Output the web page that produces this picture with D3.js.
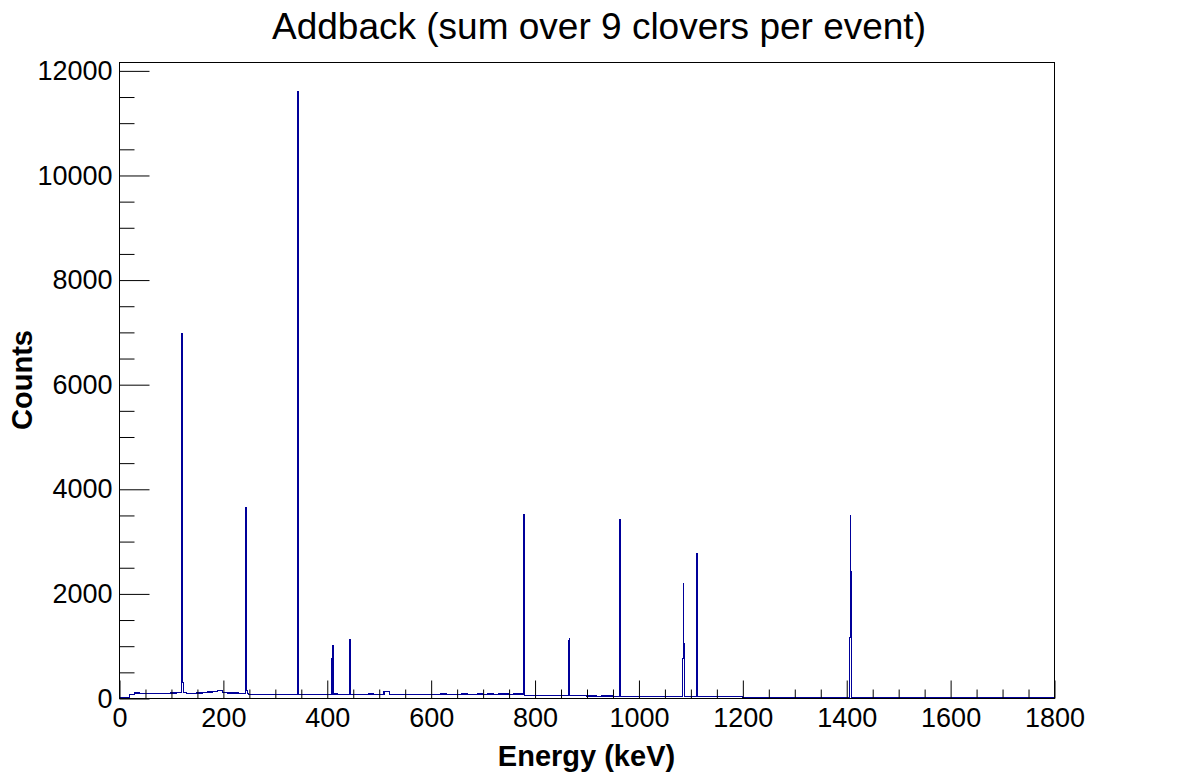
<!DOCTYPE html>
<html>
<head>
<meta charset="utf-8">
<script src="https://cdn.jsdelivr.net/npm/d3@7"></script>
<style>
  html, body { margin: 0; padding: 0; background: #fff; }
  svg { display: block; }
  text { font-family: "Liberation Sans", Arial, Helvetica, sans-serif; }
</style>
</head>
<body>
<div id="chart"></div>
<script>
// ---------------- data ----------------
const title = "Addback (sum over 9 clovers per event)";
const xTitle = "Energy (keV)";
const yTitle = "Counts";
const xTickValues = [0, 200, 400, 600, 800, 1000, 1200, 1400, 1600, 1800];
const yTickValues = [0, 2000, 4000, 6000, 8000, 10000, 12000];
const xRange = [0, 1800];
const yRange = [0, 12160];
const binWidth = 1;            // keV per histogram bin
const bgStart = 20;            // keV where the continuum begins
const bgStep = 10;             // keV width of each continuum reading
// continuum counts read every 10 keV from 20 keV up to 1330 keV
const background = [
  70, 95, 80, 85, 90, 80, 85, 90, 95, 105,          // 20-120
  110, 80, 85, 95, 110, 115, 130, 150,              // 120-200
  100, 95, 95, 90, 85,                              // 200-250
  70, 68, 70, 65, 68, 66, 64, 66, 65, 62,           // 250-350
  68, 66, 70, 68, 67,                               // 350-400
  72, 75, 74, 72, 70,                               // 400-450
  72, 70, 72, 75, 70, 72, 120, 70, 72, 70,          // 450-550
  68, 74, 72, 70, 72,                               // 550-600
  74, 72, 76, 73, 72, 74, 75, 72, 74, 76,           // 600-700
  73, 75, 74, 76, 75, 74, 76, 78,                   // 700-780
  55, 52, 50, 54, 50, 48, 52, 50, 47, 49, 45, 42,   // 780-900
  40, 38, 36, 38, 37, 36,                           // 900-960
  28, 26, 25, 24, 26, 25, 24, 25, 23, 25, 24, 22, 24, // 960-1090
  25, 24,                                           // 1090-1110
  36, 35, 34, 36, 35, 34, 35, 33, 34,               // 1110-1200
  14, 12, 13, 12, 11, 12, 11, 10, 12, 10,           // 1200-1300
  8, 6, 3                                           // 1300-1330
];
// photopeak bins: [bin energy (keV), counts]
const peakBins = [
  [121, 6960], [122, 6940], [123, 300],
  [244, 3640], [245, 2050], [246, 150],
  [343, 1950], [344, 11590], [345, 2350],
  [410, 760], [411, 1000],
  [443, 580], [444, 1115],
  [778, 3480], [779, 3500], [780, 110],
  [866, 1100], [867, 1130],
  [963, 3010], [964, 3410], [965, 910],
  [1085, 750], [1086, 2190], [1087, 1040],
  [1111, 2700], [1112, 2760], [1113, 240],
  [1407, 1150], [1408, 3490], [1409, 2420]
];

// ---------------- layout ----------------
const W = 1198, H = 776;
const frame = { left: 119, right: 1054, top: 62, bottom: 698 };

const svg = d3.select("#chart").append("svg")
  .attr("width", W).attr("height", H);

const x = d3.scaleLinear().domain(xRange).range([frame.left, frame.right]);
const y = d3.scaleLinear().domain(yRange).range([frame.bottom, frame.top]);

// build histogram bins from the readings
const peakMap = new Map(peakBins);
const bgEnd = bgStart + background.length * bgStep;
const bins = [];
for (let e = xRange[0]; e < xRange[1]; e += binWidth) {
  let v = 0;
  if (peakMap.has(e)) v = peakMap.get(e);
  else if (e >= bgStart && e < bgEnd) v = background[Math.floor((e - bgStart) / bgStep)];
  bins.push({ x0: e, x1: e + binWidth, v });
}
const pts = [];
bins.forEach(b => { pts.push([b.x0, b.v]); pts.push([b.x1, b.v]); });

const line = d3.line().x(d => x(d[0])).y(d => y(d[1]));

svg.append("path")
  .datum(pts)
  .attr("d", line)
  .attr("fill", "none")
  .attr("stroke", "#000099")
  .attr("stroke-width", 1.2)
  .attr("shape-rendering", "crispEdges");

// frame
svg.append("rect")
  .attr("x", frame.left + 0.5).attr("y", frame.top + 0.5)
  .attr("width", frame.right - frame.left).attr("height", frame.bottom - frame.top)
  .attr("fill", "none").attr("stroke", "#000").attr("stroke-width", 1);

// x axis ticks (inward, upward)
const xMinor = d3.range(xRange[0], xRange[1] + 1, 50).filter(v => v % 200 !== 0);
const xAxisMajor = d3.axisBottom(x).tickValues(xTickValues).tickSizeInner(-18).tickSizeOuter(0).tickPadding(24).tickFormat(d3.format("d"));
const xg = svg.append("g").attr("transform", `translate(0.5,${frame.bottom + 0.5})`).call(xAxisMajor);
xg.select(".domain").remove();
xg.selectAll("text").attr("font-size", 27).attr("fill", "#000")
  .attr("dy", null).attr("y", 28.5);
xg.selectAll("line").attr("stroke", "#000");
const xAxisMinor = d3.axisBottom(x).tickValues(xMinor).tickSizeInner(-9).tickSizeOuter(0).tickFormat("");
const xg2 = svg.append("g").attr("transform", `translate(0.5,${frame.bottom + 0.5})`).call(xAxisMinor);
xg2.select(".domain").remove();
xg2.selectAll("line").attr("stroke", "#000");

// y axis ticks (inward, rightward)
const yMinor = d3.range(yRange[0], yRange[1], 500).filter(v => v % 2000 !== 0);
const yAxisMajor = d3.axisLeft(y).tickValues(yTickValues).tickSizeInner(-30).tickSizeOuter(0).tickPadding(7).tickFormat(d3.format("d"));
const yg = svg.append("g").attr("transform", `translate(${frame.left + 0.5},0.5)`).call(yAxisMajor);
yg.select(".domain").remove();
yg.selectAll("text").attr("font-size", 27).attr("fill", "#000");
yg.selectAll("line").attr("stroke", "#000");
const yAxisMinor = d3.axisLeft(y).tickValues(yMinor).tickSizeInner(-15).tickSizeOuter(0).tickFormat("");
const yg2 = svg.append("g").attr("transform", `translate(${frame.left + 0.5},0.5)`).call(yAxisMinor);
yg2.select(".domain").remove();
yg2.selectAll("line").attr("stroke", "#000");

// titles
svg.append("text")
  .attr("x", W / 2).attr("y", 39)
  .attr("text-anchor", "middle").attr("font-size", 37).attr("fill", "#000")
  .text(title);

svg.append("text")
  .attr("x", (frame.left + frame.right) / 2).attr("y", 766)
  .attr("text-anchor", "middle").attr("font-size", 29).attr("font-weight", "bold").attr("fill", "#000")
  .text(xTitle);

svg.append("text")
  .attr("transform", `translate(32,${(frame.top + frame.bottom) / 2}) rotate(-90)`)
  .attr("text-anchor", "middle").attr("font-size", 29).attr("font-weight", "bold").attr("fill", "#000")
  .text(yTitle);
</script>
</body>
</html>
